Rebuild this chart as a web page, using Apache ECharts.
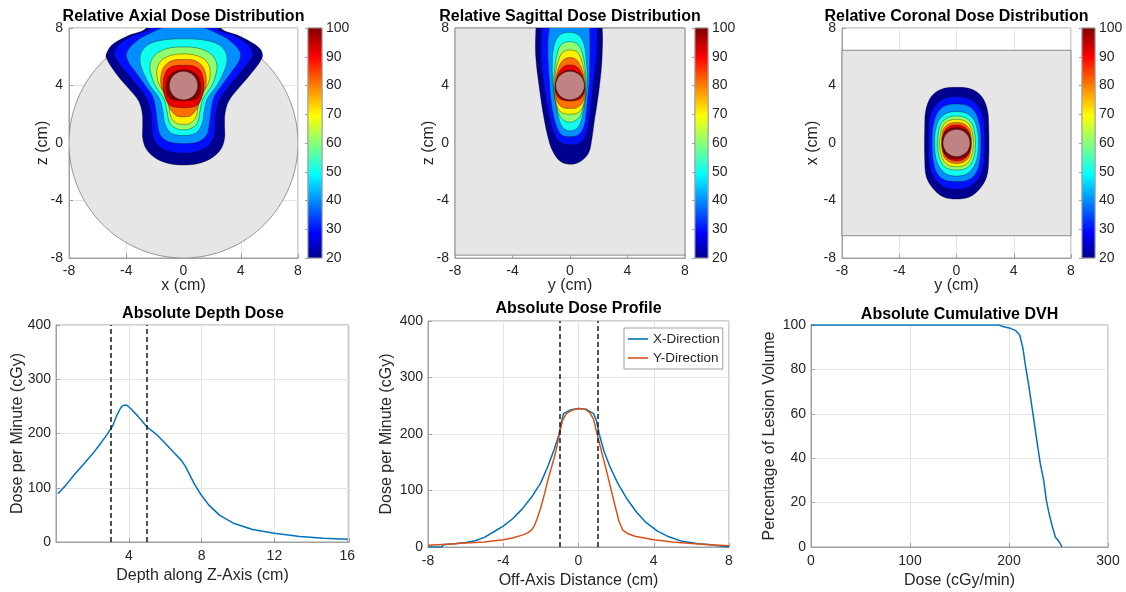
<!DOCTYPE html>
<html>
<head>
<meta charset="utf-8">
<script src="https://cdn.jsdelivr.net/npm/echarts@6/dist/echarts.min.js"></script>
<style>
  html, body { margin: 0; padding: 0; background: #ffffff; }
  #chart { width: 1126px; height: 592px; }
</style>
</head>
<body>
<div id="chart"></div>
<script>
const FONT = '"Liberation Sans", Arial, Helvetica, sans-serif';

// ---------- Relative dose planes (percent of maximum) ----------
const doseLevels = [20, 30, 40, 50, 60, 70, 80, 90, 100];
const levelColors = ['#00008F', '#0010FF', '#008FFF', '#10FFEF', '#8FFF70', '#FFEF00', '#FF7000', '#EF0000', '#800000'];
const colorbarRange = [20, 100];
const colorbarTicks = [20, 30, 40, 50, 60, 70, 80, 90, 100];
const planeTicks = [-8, -4, 0, 4, 8];

// Isodose outlines, one closed outline per level in doseLevels (cm)
const axialContours = [
  [[0,9],[2.6,9],[2.6,8.0],[3.9,7.45],[5.0,6.85],[5.45,6.4],[5.48,5.9],[4.65,4.75],[3.75,3.7],[3.15,2.9],[2.9,2.05],[2.87,1.25],[2.87,0.35],[2.62,-0.42],[2.0,-1.02],[1.05,-1.42],[0,-1.53],[-1.05,-1.42],[-2.0,-1.02],[-2.6,-0.42],[-2.85,0.35],[-2.85,1.25],[-2.88,2.05],[-3.12,2.9],[-3.75,3.7],[-4.65,4.75],[-5.4,5.95],[-5.3,6.4],[-4.9,6.9],[-3.9,7.45],[-2.6,8.0],[-2.6,9]],
  [[0,9],[2.2,9],[2.25,8.0],[3.5,7.5],[4.5,6.85],[4.85,6.25],[4.65,5.75],[3.95,4.85],[3.15,3.9],[2.58,3.1],[2.3,2.2],[2.22,1.25],[2.14,0.45],[1.75,-0.2],[0.95,-0.6],[0,-0.72],[-0.95,-0.6],[-1.75,-0.2],[-2.14,0.45],[-2.22,1.25],[-2.3,2.2],[-2.58,3.1],[-3.15,3.9],[-3.95,4.85],[-4.65,5.75],[-4.85,6.25],[-4.5,6.85],[-3.5,7.5],[-2.25,8.0],[-2.2,9]],
  [[0,8.15],[1.3,8.05],[2.3,7.65],[3.25,7.12],[3.95,6.35],[3.92,5.78],[3.38,4.97],[2.7,4.04],[2.15,3.23],[1.92,2.2],[1.8,1.25],[1.62,0.55],[1.05,0.08],[0,-0.05],[-1.05,0.08],[-1.62,0.55],[-1.8,1.25],[-1.92,2.2],[-2.15,3.23],[-2.7,4.04],[-3.38,4.97],[-3.92,5.78],[-3.95,6.35],[-3.25,7.12],[-2.3,7.65],[-1.3,8.05]],
  [[0,7.25],[1.3,7.18],[2.4,6.88],[2.95,6.3],[3.03,5.6],[2.75,4.78],[2.3,3.95],[1.68,3.1],[1.45,2.22],[1.3,1.35],[0.9,0.72],[0,0.52],[-0.9,0.72],[-1.3,1.35],[-1.45,2.22],[-1.68,3.1],[-2.3,3.95],[-2.75,4.78],[-3.03,5.6],[-2.95,6.3],[-2.4,6.88],[-1.3,7.18]],
  [[0,6.68],[1.17,6.56],[1.98,6.13],[2.33,5.48],[2.25,4.73],[1.95,3.95],[1.35,3.06],[1.15,2.2],[0.95,1.35],[0.45,0.98],[0,0.92],[-0.45,0.98],[-0.95,1.35],[-1.15,2.2],[-1.35,3.06],[-1.95,3.95],[-2.25,4.73],[-2.33,5.48],[-1.98,6.13],[-1.17,6.56]],
  [[0,6.2],[0.93,6.08],[1.59,5.7],[1.86,5.08],[1.75,4.2],[1.35,3.46],[1.05,2.7],[0.85,1.75],[0.42,1.35],[0,1.3],[-0.42,1.35],[-0.85,1.75],[-1.05,2.7],[-1.35,3.46],[-1.75,4.2],[-1.86,5.08],[-1.59,5.7],[-0.93,6.08]],
  [[0,5.8],[0.82,5.72],[1.35,5.3],[1.58,4.62],[1.55,3.95],[1.25,3.23],[0.93,2.4],[0.5,1.9],[0,1.83],[-0.5,1.9],[-0.93,2.4],[-1.25,3.23],[-1.55,3.95],[-1.58,4.62],[-1.35,5.3],[-0.82,5.72]],
  [[0,5.4],[0.7,5.35],[1.17,5.05],[1.38,4.5],[1.42,3.9],[1.28,3.16],[0.98,2.65],[0.47,2.48],[0,2.46],[-0.47,2.48],[-0.98,2.65],[-1.28,3.16],[-1.42,3.9],[-1.38,4.5],[-1.17,5.05],[-0.7,5.35]],
  [[0,5.1],[0.65,4.95],[1.05,4.6],[1.18,4.1],[1.18,3.55],[1.0,3.15],[0.55,2.98],[0,2.95],[-0.55,2.98],[-1.0,3.15],[-1.18,3.55],[-1.18,4.1],[-1.05,4.6],[-0.65,4.95]]
];

const sagittalContours = [
  [[0,9],[2.2,9],[2.24,8.0],[2.27,7.29],[2.2,5.43],[1.97,3.34],[1.67,1.37],[1.51,0.21],[1.28,-0.72],[0.7,-1.3],[0,-1.48],[-0.7,-1.25],[-1.21,-0.55],[-1.51,0.32],[-1.81,1.72],[-2.13,3.81],[-2.39,6.13],[-2.37,8.0],[-2.3,9]],
  [[0,9],[1.9,9],[1.9,8.0],[1.86,6.13],[1.62,4.04],[1.39,1.95],[1.16,0.67],[0.77,0.05],[0,-0.14],[-0.74,0.09],[-1.16,0.79],[-1.51,2.18],[-1.86,4.27],[-2.04,6.36],[-1.97,8.0],[-1.95,9]],
  [[0,9],[1.35,9],[1.36,8.0],[1.39,6.82],[1.35,4.5],[1.16,2.41],[0.97,1.14],[0.58,0.56],[0,0.44],[-0.58,0.56],[-0.97,1.25],[-1.28,2.65],[-1.45,4.5],[-1.55,6.82],[-1.44,8.0],[-1.4,9]],
  [[0,7.7],[0.58,7.52],[0.95,6.94],[1.12,5.9],[1.2,4.5],[1.05,2.9],[0.76,1.5],[0.42,0.97],[0,0.84],[-0.38,0.97],[-0.72,1.5],[-1.0,2.8],[-1.2,4.3],[-1.23,5.66],[-1.1,6.82],[-0.7,7.52]],
  [[0,7.05],[0.53,6.87],[0.86,6.24],[1.05,5.2],[1.1,4.1],[0.98,2.8],[0.66,1.8],[0,1.44],[-0.66,1.8],[-0.98,2.8],[-1.12,4.1],[-1.06,5.2],[-0.88,6.24],[-0.58,6.87]],
  [[0,6.47],[0.51,6.31],[0.83,5.66],[1.03,4.6],[1.05,3.4],[0.88,2.5],[0.55,2.1],[0,2.0],[-0.55,2.1],[-0.88,2.5],[-1.05,3.4],[-1.05,4.6],[-0.83,5.66],[-0.51,6.31]],
  [[0,5.94],[0.46,5.78],[0.76,5.31],[1.0,4.4],[1.02,3.4],[0.82,2.75],[0.45,2.45],[0,2.41],[-0.45,2.45],[-0.82,2.75],[-1.02,3.4],[-1.02,4.4],[-0.76,5.31],[-0.46,5.78]],
  [[0,5.43],[0.46,5.31],[0.81,4.85],[1.0,4.04],[0.97,3.46],[0.7,3.06],[0,2.92],[-0.7,3.06],[-0.97,3.46],[-1.0,4.04],[-0.81,4.85],[-0.46,5.31]],
  [[0,5.08],[0.7,4.78],[0.99,4.2],[0.97,3.57],[0.6,3.12],[0,2.97],[-0.6,3.12],[-0.97,3.57],[-0.99,4.2],[-0.7,4.78]]
];

const coronalContours = [
  [[0,3.87],[1.06,3.74],[1.76,3.23],[2.16,2.3],[2.25,1.14],[2.25,-1.18],[2.11,-2.34],[1.64,-3.16],[0.94,-3.74],[0,-3.9],[-0.94,-3.74],[-1.64,-3.16],[-2.11,-2.34],[-2.22,-1.18],[-2.22,1.14],[-2.14,2.3],[-1.76,3.23],[-1.06,3.74]],
  [[0,3.23],[0.89,3.09],[1.52,2.58],[1.88,1.79],[1.97,0.9],[1.97,-0.95],[1.83,-1.83],[1.46,-2.58],[0.83,-3.09],[0,-3.23],[-0.83,-3.09],[-1.46,-2.58],[-1.83,-1.83],[-1.95,-0.95],[-1.95,0.9],[-1.86,1.79],[-1.52,2.58],[-0.89,3.09]],
  [[0,2.71],[0.83,2.58],[1.36,2.06],[1.64,1.14],[1.71,0],[1.64,-1.18],[1.36,-2.11],[0.83,-2.58],[0,-2.69],[-0.83,-2.58],[-1.36,-2.11],[-1.64,-1.18],[-1.71,0],[-1.64,1.14],[-1.36,2.06],[-0.83,2.58]],
  [[0,2.18],[0.71,2.06],[1.22,1.6],[1.48,0.79],[1.53,0],[1.46,-0.95],[1.18,-1.69],[0.71,-2.16],[0,-2.3],[-0.71,-2.16],[-1.18,-1.69],[-1.46,-0.95],[-1.53,0],[-1.48,0.79],[-1.22,1.6],[-0.71,2.06]],
  [[0,1.88],[0.61,1.76],[1.06,1.37],[1.27,0.67],[1.32,0],[1.25,-0.84],[1.0,-1.46],[0.6,-1.79],[0,-1.88],[-0.6,-1.79],[-1.0,-1.46],[-1.25,-0.84],[-1.32,0],[-1.27,0.67],[-1.06,1.37],[-0.61,1.76]],
  [[0,1.65],[0.59,1.53],[0.94,1.18],[1.13,0.56],[1.18,0],[1.11,-0.67],[0.9,-1.23],[0.55,-1.55],[0,-1.65],[-0.55,-1.55],[-0.9,-1.23],[-1.11,-0.67],[-1.18,0],[-1.13,0.56],[-0.94,1.18],[-0.59,1.53]],
  [[0,1.42],[0.55,1.32],[0.88,1.0],[1.02,0.5],[1.05,0],[1.0,-0.5],[0.85,-1.0],[0.5,-1.32],[0,-1.42],[-0.5,-1.32],[-0.85,-1.0],[-1.0,-0.5],[-1.05,0],[-1.02,0.5],[-0.88,1.0],[-0.55,1.32]],
  [[0,1.25],[0.5,1.15],[0.82,0.85],[0.95,0.4],[0.97,0],[0.93,-0.45],[0.8,-0.85],[0.48,-1.15],[0,-1.25],[-0.48,-1.15],[-0.8,-0.85],[-0.93,-0.45],[-0.97,0],[-0.95,0.4],[-0.82,0.85],[-0.5,1.15]],
  [[0,1.08],[0.55,0.95],[0.9,0.6],[1.02,0],[0.92,-0.6],[0.58,-0.98],[0,-1.12],[-0.58,-0.98],[-0.92,-0.6],[-1.02,0],[-0.9,0.6],[-0.55,0.95]]
];

// Phantom outlines and lesion (cm)
const axialPhantom = { center: [0, 0], radius: 8 };
const sagittalPhantom = [[-8, -7.8], [8, 8]];
const coronalPhantom = [[-8, -6.45], [8, 6.45]];
const axialLesion = { center: [0, 4], radius: 1.0 };
const sagittalLesion = { center: [0, 4], radius: 1.0 };
const coronalLesion = { center: [0, 0], radius: 0.95 };

// ---------- Absolute depth dose ----------
const depthCm = [0.1, 0.5, 1.0, 1.5, 2.0, 2.5, 2.8, 3.1, 3.35, 3.55, 3.7, 3.9, 4.1, 4.5, 5.0, 5.5, 6.0, 6.5, 6.9, 7.1, 7.3, 7.6, 7.95, 8.4, 9.0, 9.8, 10.8, 12.0, 13.4, 14.7, 16.0];
const depthDose = [89, 103, 124, 143, 162, 184, 198, 213, 234, 247, 252, 252, 246, 232, 212, 199, 182, 164, 150, 140, 127, 107, 88, 68, 49, 34, 23, 16, 10, 7, 5];
const depthMarkers = [3, 5];
const depthTicks = [4, 8, 12, 16];

// ---------- Absolute dose profile ----------
const profileXpos = [-8, -7.25, -7.2, -6.5, -6, -5.5, -5, -4.5, -4, -3.5, -3, -2.5, -2, -1.6, -1.3, -1.05, -0.9, -0.8, -0.4, 0, 0.4, 0.8, 0.95, 1.1, 1.35, 1.7, 2.1, 2.6, 3.1, 3.6, 4.2, 4.8, 5.5, 6.3, 7.0, 7.2, 7.25, 8];
const profileXdose = [0, 0, 4, 6, 8, 11, 17, 27, 37, 50, 67, 88, 114, 145, 172, 198, 222, 236, 243, 245, 244, 236, 224, 200, 170, 140, 112, 84, 61, 43, 28, 18, 10, 6, 4, 3, 0, 0];
const profileYpos = [-8, -7, -6, -5, -4, -3.5, -3, -2.7, -2.5, -2.35, -2.2, -2.0, -1.8, -1.6, -1.4, -1.2, -1.0, -0.85, -0.65, -0.35, 0, 0.35, 0.6, 0.8, 0.95, 1.2, 1.45, 1.7, 1.95, 2.15, 2.35, 2.6, 3.0, 3.5, 4, 5, 6, 7, 8];
const profileYdose = [3, 5, 7, 9, 13, 16, 21, 25, 30, 37, 50, 70, 95, 122, 145, 170, 202, 224, 236, 242, 245, 244, 238, 226, 205, 172, 140, 106, 72, 46, 30, 24, 19, 16, 13, 9, 6, 4, 2];
const profileMarkers = [-1, 1];

// ---------- Cumulative DVH ----------
const dvhDose = [0, 190, 194.6, 201.3, 206.4, 210.8, 214.1, 216.5, 219.9, 224.9, 228.3, 231.6, 235.0, 237.7, 240.1, 243.4, 246.8, 251.2, 253.5];
const dvhVolume = [100, 100, 99.2, 98.5, 97.6, 95.5, 89.5, 82, 72.9, 57.9, 47.4, 37.6, 30.1, 21.1, 15.8, 9.8, 4.5, 2.0, 0];

// ---------- Styling helpers ----------
const FRAME = '#a0a0a0';
const GRIDLINE = '#e4e4e4';
const TEXT = '#262626';
const labelStyle = { color: TEXT, fontSize: 14, fontFamily: FONT };
const nameStyle = { color: TEXT, fontSize: 16, fontFamily: FONT };

const jetStops = [
  { offset: 0, color: '#00008F' },
  { offset: 0.111, color: '#0000FF' },
  { offset: 0.365, color: '#00FFFF' },
  { offset: 0.619, color: '#FFFF00' },
  { offset: 0.873, color: '#FF0000' },
  { offset: 1, color: '#800000' }
];

const grids = [
  { left: 69, top: 28, width: 229, height: 230 },
  { left: 455, top: 28, width: 230, height: 230 },
  { left: 842, top: 28, width: 229, height: 230 },
  { left: 308, top: 28, width: 14, height: 230 },
  { left: 695, top: 28, width: 13, height: 230 },
  { left: 1082, top: 28, width: 13, height: 230 },
  { left: 56, top: 325, width: 293, height: 217 },
  { left: 428, top: 321, width: 301, height: 226 },
  { left: 811, top: 325, width: 297, height: 222 }
].map(g => Object.assign({ show: true, borderColor: FRAME, borderWidth: 1, backgroundColor: 'transparent', containLabel: false }, g));

function valueAxis(gridIndex, o) {
  return Object.assign({
    gridIndex, type: 'value',
    axisLine: { show: true, onZero: false, lineStyle: { color: FRAME, width: 1 } },
    axisTick: { show: true, inside: true, length: 4, lineStyle: { color: FRAME } },
    splitLine: { show: true, lineStyle: { color: GRIDLINE, width: 1 } },
    axisLabel: Object.assign({ margin: 6 }, labelStyle),
    nameLocation: 'middle', nameTextStyle: nameStyle, nameMoveOverlap: false
  }, o);
}

const planeRange = { min: planeTicks[0], max: planeTicks[planeTicks.length - 1], interval: planeTicks[1] - planeTicks[0] };

const xAxes = [
  valueAxis(0, Object.assign({ name: 'x (cm)', nameGap: 20 }, planeRange)),
  valueAxis(1, Object.assign({ name: 'y (cm)', nameGap: 20 }, planeRange)),
  valueAxis(2, Object.assign({ name: 'y (cm)', nameGap: 20 }, planeRange)),
  { gridIndex: 3, type: 'value', min: 0, max: 1, show: false },
  { gridIndex: 4, type: 'value', min: 0, max: 1, show: false },
  { gridIndex: 5, type: 'value', min: 0, max: 1, show: false },
  valueAxis(6, { min: 0, max: 16.1, interval: 4, name: 'Depth along Z-Axis (cm)', nameGap: 26,
    axisLabel: Object.assign({ margin: 7, formatter: v => depthTicks.indexOf(v) >= 0 ? String(v) : '' }, labelStyle) }),
  valueAxis(7, { min: -8, max: 8, interval: 4, name: 'Off-Axis Distance (cm)', nameGap: 26, axisLabel: Object.assign({ margin: 7 }, labelStyle) }),
  valueAxis(8, { min: 0, max: 300, interval: 100, name: 'Dose (cGy/min)', nameGap: 26, axisLabel: Object.assign({ margin: 7 }, labelStyle) })
];

function colorbarAxis(gridIndex) {
  return {
    gridIndex, type: 'value', position: 'right',
    min: colorbarRange[0], max: colorbarRange[1], interval: colorbarTicks[1] - colorbarTicks[0],
    axisLine: { show: true, lineStyle: { color: FRAME } },
    axisTick: { show: true, inside: true, length: 3, lineStyle: { color: FRAME } },
    splitLine: { show: false },
    axisLabel: Object.assign({ margin: 4 }, labelStyle)
  };
}

const yAxes = [
  valueAxis(0, Object.assign({ name: 'z (cm)', nameGap: 18 }, planeRange)),
  valueAxis(1, Object.assign({ name: 'z (cm)', nameGap: 18 }, planeRange)),
  valueAxis(2, Object.assign({ name: 'x (cm)', nameGap: 21 }, planeRange)),
  colorbarAxis(3), colorbarAxis(4), colorbarAxis(5),
  valueAxis(6, { min: 0, max: 400, interval: 100, name: 'Dose per Minute (cGy)', nameGap: 30, axisLabel: Object.assign({ margin: 5 }, labelStyle) }),
  valueAxis(7, { min: 0, max: 400, interval: 100, name: 'Dose per Minute (cGy)', nameGap: 33, axisLabel: Object.assign({ margin: 5 }, labelStyle) }),
  valueAxis(8, { min: 0, max: 100, interval: 20, name: 'Percentage of Lesion Volume', nameGap: 33, axisLabel: Object.assign({ margin: 5 }, labelStyle) })
];

// ---------- Series builders ----------
function circlePhantomSeries(idx, phantom) {
  return {
    type: 'custom', xAxisIndex: idx, yAxisIndex: idx, clip: true, silent: true, z: 1,
    data: [[phantom.center[0], phantom.center[1]]],
    renderItem(params, api) {
      const c = api.coord(phantom.center);
      const s = api.size([phantom.radius, phantom.radius]);
      return { type: 'ellipse', shape: { cx: c[0], cy: c[1], rx: s[0], ry: s[1] },
        style: { fill: '#e6e6e6', stroke: '#6f6f6f', lineWidth: 0.7 } };
    }
  };
}

function rectPhantomSeries(idx, corners) {
  return {
    type: 'custom', xAxisIndex: idx, yAxisIndex: idx, clip: false, silent: true, z: 1,
    data: [corners[0]],
    renderItem(params, api) {
      const a = api.coord(corners[0]);
      const b = api.coord(corners[1]);
      return { type: 'rect', shape: { x: a[0], y: b[1], width: b[0] - a[0], height: a[1] - b[1] },
        style: { fill: '#e6e6e6', stroke: '#8c8c8c', lineWidth: 1 } };
    }
  };
}

function contourSeries(idx, outlines) {
  return {
    type: 'custom', xAxisIndex: idx, yAxisIndex: idx, clip: true, silent: true, z: 2,
    data: outlines.map((o, i) => [o[0][0], o[0][1], doseLevels[i]]),
    renderItem(params, api) {
      const outline = outlines[params.dataIndex];
      const pts = outline.map(p => api.coord(p));
      return { type: 'polygon', shape: { points: pts, smooth: 0.35 },
        style: { fill: levelColors[params.dataIndex], stroke: 'rgba(0,0,0,0.7)', lineWidth: 0.5 } };
    }
  };
}

function lesionSeries(idx, lesion) {
  return {
    type: 'custom', xAxisIndex: idx, yAxisIndex: idx, clip: true, silent: true, z: 3,
    data: [[lesion.center[0], lesion.center[1]]],
    renderItem(params, api) {
      const c = api.coord(lesion.center);
      const s = api.size([lesion.radius, lesion.radius]);
      return { type: 'ellipse', shape: { cx: c[0], cy: c[1], rx: s[0], ry: s[1] },
        style: { fill: '#bf8383', stroke: 'rgba(40,10,10,0.7)', lineWidth: 0.7 } };
    }
  };
}

function colorbarSeries(idx) {
  return {
    type: 'custom', xAxisIndex: idx, yAxisIndex: idx, silent: true, z: 2,
    data: [[0, colorbarRange[0]]],
    renderItem(params, api) {
      const a = api.coord([0, colorbarRange[0]]);
      const b = api.coord([1, colorbarRange[1]]);
      return { type: 'rect', shape: { x: a[0], y: b[1], width: b[0] - a[0], height: a[1] - b[1] },
        style: { fill: { type: 'linear', x: 0, y: 1, x2: 0, y2: 0, colorStops: jetStops }, stroke: FRAME, lineWidth: 1 } };
    }
  };
}

function markers(values) {
  return {
    silent: true, symbol: ['none', 'none'], label: { show: false }, animation: false,
    lineStyle: { color: '#1a1a1a', type: [5, 3], width: 1.5 },
    data: values.map(v => ({ xAxis: v }))
  };
}

const zip = (xs, ys) => xs.map((x, i) => [x, ys[i]]);
const BLUE = '#0072BD';
const ORANGE = '#D95319';

const series = [
  circlePhantomSeries(0, axialPhantom),
  contourSeries(0, axialContours),
  lesionSeries(0, axialLesion),
  rectPhantomSeries(1, sagittalPhantom),
  contourSeries(1, sagittalContours),
  lesionSeries(1, sagittalLesion),
  rectPhantomSeries(2, coronalPhantom),
  contourSeries(2, coronalContours),
  lesionSeries(2, coronalLesion),
  colorbarSeries(3), colorbarSeries(4), colorbarSeries(5),
  { type: 'line', name: 'Depth Dose', xAxisIndex: 6, yAxisIndex: 6, data: zip(depthCm, depthDose),
    symbol: 'none', lineStyle: { color: BLUE, width: 1.5 }, itemStyle: { color: BLUE }, z: 3,
    markLine: markers(depthMarkers) },
  { type: 'line', name: 'X-Direction', xAxisIndex: 7, yAxisIndex: 7, data: zip(profileXpos, profileXdose),
    symbol: 'none', lineStyle: { color: BLUE, width: 1.5 }, itemStyle: { color: BLUE }, z: 3,
    markLine: markers(profileMarkers) },
  { type: 'line', name: 'Y-Direction', xAxisIndex: 7, yAxisIndex: 7, data: zip(profileYpos, profileYdose),
    symbol: 'none', lineStyle: { color: ORANGE, width: 1.5 }, itemStyle: { color: ORANGE }, z: 3 },
  { type: 'line', name: 'DVH', xAxisIndex: 8, yAxisIndex: 8, data: zip(dvhDose, dvhVolume),
    symbol: 'none', lineStyle: { color: BLUE, width: 1.5 }, itemStyle: { color: BLUE }, z: 3 }
];

// Panel titles, centred over each panel
const panelTitles = [
  { text: 'Relative Axial Dose Distribution', x: 183.5, y: 17 },
  { text: 'Relative Sagittal Dose Distribution', x: 570, y: 17 },
  { text: 'Relative Coronal Dose Distribution', x: 956.5, y: 17 },
  { text: 'Absolute Depth Dose', x: 203, y: 314 },
  { text: 'Absolute Dose Profile', x: 578.5, y: 309 },
  { text: 'Absolute Cumulative DVH', x: 959.5, y: 315 }
];

const option = {
  animation: false,
  backgroundColor: '#ffffff',
  grid: grids,
  xAxis: xAxes,
  yAxis: yAxes,
  legend: {
    data: ['X-Direction', 'Y-Direction'],
    left: 624, top: 328, orient: 'vertical',
    icon: 'rect', itemWidth: 20, itemHeight: 1.6, itemGap: 5,
    padding: [4, 3, 4, 4],
    backgroundColor: '#ffffff', borderColor: FRAME, borderWidth: 1,
    textStyle: { color: TEXT, fontSize: 13.5, fontFamily: FONT, padding: [0, 0, 0, 0] },
    selectedMode: false
  },
  graphic: panelTitles.map(t => ({
    type: 'text', x: t.x, y: t.y, silent: true, z: 10,
    style: { text: t.text, fill: '#000000', font: 'bold 16px ' + FONT, textAlign: 'center', textVerticalAlign: 'middle' }
  })),
  series
};

const chart = echarts.init(document.getElementById('chart'), null, { renderer: 'canvas', width: 1126, height: 592 });
chart.setOption(option);
</script>
</body>
</html>
